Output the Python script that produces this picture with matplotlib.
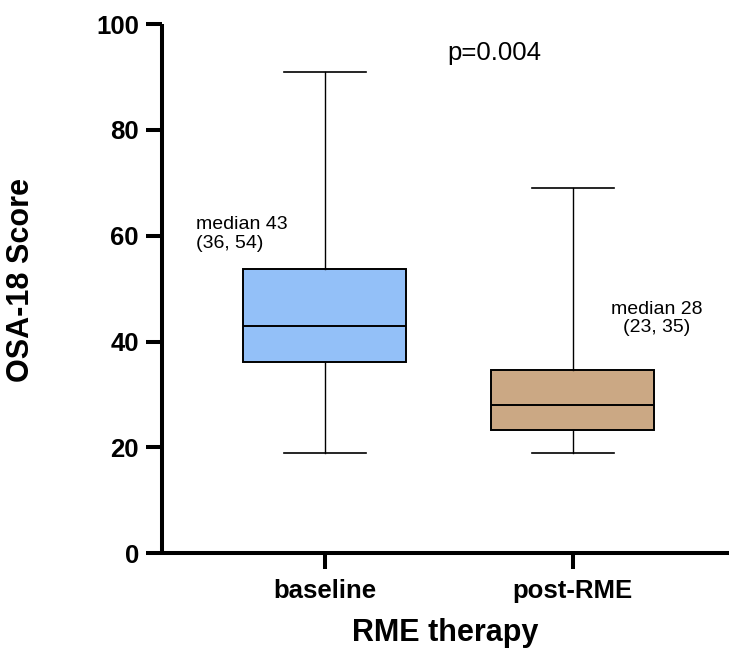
import matplotlib
matplotlib.use("Agg")
import matplotlib.pyplot as plt

plt.rcParams['font.family'] = ['Liberation Sans', 'DejaVu Sans']

# OSA-18 scores before and after RME (box = IQR, whiskers = min/max)
groups = ['baseline', 'post-RME']
q1 = [36.2, 23.2]
medians = [43, 28]
q3 = [53.7, 34.7]
mins = [19, 19]
maxs = [91, 69]
box_colors = ['#93C0F8', '#CBA884']
notes = ['median 43\n(36, 54)', 'median 28\n(23, 35)']
p_text = 'p=0.004'

stats = []
for i, g in enumerate(groups):
    stats.append({'label': g, 'q1': q1[i], 'med': medians[i], 'q3': q3[i],
                  'whislo': mins[i], 'whishi': maxs[i], 'fliers': []})

fig = plt.figure(figsize=(7.29, 6.56), dpi=100)
ax = fig.add_axes([0.2218, 0.1566, 0.7782, 0.8068])

pos = [1, 2]
bp = ax.bxp(stats, positions=pos, widths=0.657, capwidths=0.33,
            patch_artist=True, showfliers=False,
            boxprops=dict(linewidth=1.4, edgecolor='black'),
            medianprops=dict(color='black', linewidth=1.4),
            whiskerprops=dict(color='black', linewidth=1.0),
            capprops=dict(color='black', linewidth=1.2))
for patch, c in zip(bp['boxes'], box_colors):
    patch.set_facecolor(c)

ax.set_xlim(0.342, 2.63)
ax.set_ylim(0, 100)
ax.set_yticks([0, 20, 40, 60, 80, 100])
ax.set_xticks(pos)
ax.set_xticklabels(groups)

for s in ['top', 'right']:
    ax.spines[s].set_visible(False)
for s in ['left', 'bottom']:
    ax.spines[s].set_linewidth(2.9)
    ax.spines[s].set_capstyle('butt')

ax.tick_params(axis='both', length=11.5, width=2.9, labelsize=18.5)
ax.tick_params(axis='y', pad=5)
ax.tick_params(axis='x', pad=7)
for lab in ax.get_xticklabels() + ax.get_yticklabels():
    lab.set_fontweight('bold')

ax.set_ylabel('OSA-18 Score', fontsize=22, fontweight='bold')
ax.yaxis.set_label_coords(-0.222, 0.516)
ax.set_xlabel('RME therapy', fontsize=22, fontweight='bold', labelpad=11)

# annotations
ax.text(0.48, 60.3, notes[0], fontsize=14, ha='left', va='center', linespacing=1.1)
ax.text(2.34, 44.3, notes[1], fontsize=14, ha='center', va='center',
        multialignment='center', linespacing=1.1)
ax.text(1.685, 94.5, p_text, fontsize=18.5, ha='center', va='center')

fig.savefig('out.png', dpi=100)
